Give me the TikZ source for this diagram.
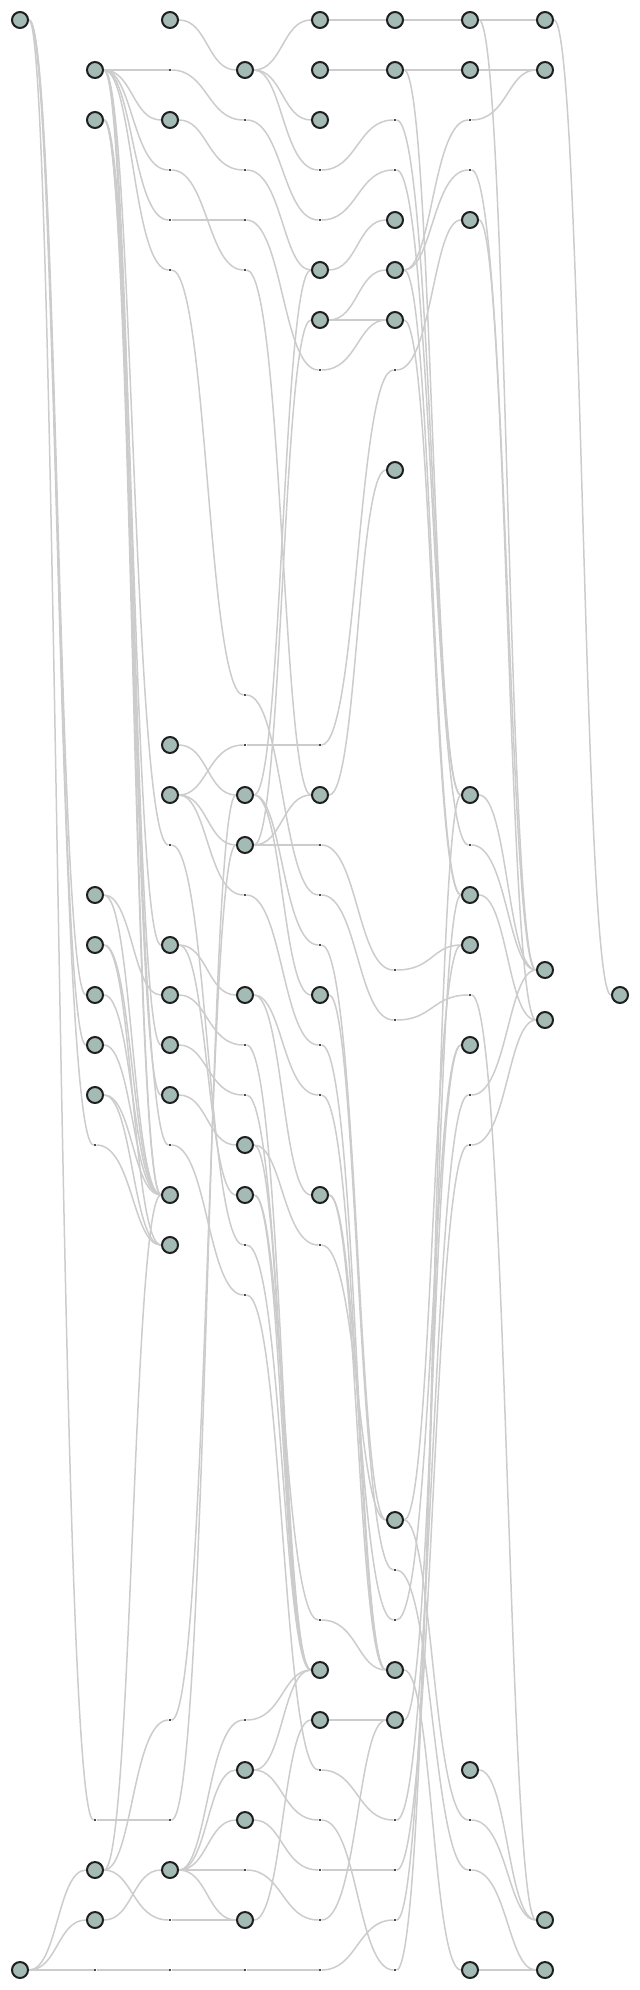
\documentclass[tikz,border=0pt]{standalone}
\usetikzlibrary{backgrounds}
\definecolor{nodefill}{RGB}{163,186,181}
\definecolor{linkgray}{RGB}{204,204,204}
\tikzset{
  vtx/.style={circle,draw=black!88,line width=1pt,fill=nodefill,minimum size=8pt,inner sep=0pt},
  kink/.style={rectangle,fill=black!70,minimum size=1.1pt,inner sep=0pt},
  link/.style={draw=linkgray,line width=0.75pt}
}
\newcommand{\lnk}[2]{\draw[link] (#1) .. controls +(37.5,0) and +(-37.5,0) .. (#2);}
\begin{document}
\begin{tikzpicture}[x=0.5pt,y=-0.5pt]
\useasboundingbox (0,0) rectangle (640,1990);
% Layer 0
\foreach \y in {20,1970} \node[vtx] (c0y\y) at (20,\y) {};
% Layer 1
\foreach \y in {70,120,895,945,995,1045,1095,1870,1920} \node[vtx] (c1y\y) at (95,\y) {};
\foreach \y in {1145,1820,1970} \node[kink] (c1y\y) at (95,\y) {};
% Layer 2
\foreach \y in {20,120,745,795,945,995,1045,1095,1195,1245,1870} \node[vtx] (c2y\y) at (170,\y) {};
\foreach \y in {70,170,220,270,845,1145,1720,1820,1920,1970} \node[kink] (c2y\y) at (170,\y) {};
% Layer 3
\foreach \y in {70,795,845,995,1145,1195,1770,1820,1920} \node[vtx] (c3y\y) at (245,\y) {};
\foreach \y in {120,170,220,270,695,745,895,1045,1095,1245,1295,1720,1870,1970} \node[kink] (c3y\y) at (245,\y) {};
% Layer 4
\foreach \y in {20,70,120,270,320,795,995,1195,1670,1720} \node[vtx] (c4y\y) at (320,\y) {};
\foreach \y in {170,220,370,745,845,895,945,1045,1095,1245,1620,1770,1820,1870,1920,1970} \node[kink] (c4y\y) at (320,\y) {};
% Layer 5
\foreach \y in {20,70,220,270,320,470,1520,1670,1720} \node[vtx] (c5y\y) at (395,\y) {};
\foreach \y in {120,170,370,970,1020,1570,1620,1820,1870,1920,1970} \node[kink] (c5y\y) at (395,\y) {};
% Layer 6
\foreach \y in {20,70,220,795,895,945,1045,1770,1970} \node[vtx] (c6y\y) at (470,\y) {};
\foreach \y in {120,170,845,995,1095,1145,1820,1870} \node[kink] (c6y\y) at (470,\y) {};
% Layer 7 and 8
\foreach \y in {20,70,970,1020,1920,1970} \node[vtx] (c7y\y) at (545,\y) {};
\node[vtx] (c8y995) at (620,995) {};

\begin{scope}[on background layer]
% links 0 -> 1
\foreach \a/\b in {c0y20/c1y995,c0y20/c1y1045,c0y20/c1y1145,c0y20/c1y1820,
  c0y1970/c1y1870,c0y1970/c1y1920,c0y1970/c1y1970}
  {\lnk{\a}{\b}}
% links 1 -> 2
\foreach \a/\b in {c1y70/c2y70,c1y70/c2y120,c1y70/c2y170,c1y70/c2y220,c1y70/c2y270,
  c1y70/c2y845,c1y70/c2y1045,c1y70/c2y1195,
  c1y120/c2y945,c1y120/c2y1095,c1y120/c2y1145,c1y120/c2y1195,
  c1y895/c2y995,c1y895/c2y1195,c1y945/c2y1195,c1y945/c2y1245,
  c1y995/c2y1195,c1y1045/c2y1195,c1y1095/c2y1195,c1y1095/c2y1245,c1y1145/c2y1245,
  c1y1820/c2y1820,c1y1870/c2y1195,c1y1870/c2y1720,c1y1870/c2y1920,
  c1y1920/c2y1870,c1y1970/c2y1970}
  {\lnk{\a}{\b}}
% links 2 -> 3
\foreach \a/\b in {c2y20/c3y70,c2y70/c3y120,c2y120/c3y170,c2y170/c3y270,c2y220/c3y220,
  c2y270/c3y695,c2y745/c3y795,c2y795/c3y745,c2y795/c3y845,c2y795/c3y895,
  c2y845/c3y1245,c2y945/c3y995,c2y945/c3y1195,c2y995/c3y1045,c2y1045/c3y1095,
  c2y1095/c3y1145,c2y1145/c3y1295,c2y1720/c3y845,c2y1820/c3y795,
  c2y1870/c3y1720,c2y1870/c3y1770,c2y1870/c3y1820,c2y1870/c3y1870,c2y1870/c3y1920,
  c2y1920/c3y1920,c2y1970/c3y1970}
  {\lnk{\a}{\b}}
% links 3 -> 4
\foreach \a/\b in {c3y70/c4y20,c3y70/c4y120,c3y70/c4y170,c3y120/c4y220,c3y170/c4y270,
  c3y220/c4y370,c3y270/c4y795,c3y695/c4y895,c3y745/c4y745,
  c3y795/c4y270,c3y795/c4y945,c3y795/c4y995,c3y845/c4y320,c3y845/c4y795,c3y845/c4y845,
  c3y895/c4y1045,c3y995/c4y1195,c3y995/c4y1095,c3y1045/c4y1670,c3y1095/c4y1670,
  c3y1145/c4y1670,c3y1145/c4y1245,c3y1195/c4y1670,c3y1195/c4y1620,c3y1245/c4y1670,
  c3y1295/c4y1770,c3y1720/c4y1670,c3y1770/c4y1670,c3y1770/c4y1820,
  c3y1820/c4y1870,c3y1870/c4y1920,c3y1920/c4y1720,c3y1970/c4y1970}
  {\lnk{\a}{\b}}
% links 4 -> 5
\foreach \a/\b in {c4y20/c5y20,c4y70/c5y70,c4y170/c5y120,c4y220/c5y170,c4y270/c5y220,
  c4y320/c5y270,c4y320/c5y320,c4y370/c5y320,c4y745/c5y370,c4y795/c5y470,
  c4y845/c5y970,c4y895/c5y1020,c4y945/c5y1520,c4y995/c5y1570,c4y1045/c5y1670,
  c4y1095/c5y1670,c4y1195/c5y1620,c4y1195/c5y1670,c4y1245/c5y1520,c4y1620/c5y1670,
  c4y1720/c5y1720,c4y1770/c5y1820,c4y1820/c5y1970,c4y1870/c5y1870,
  c4y1920/c5y1720,c4y1970/c5y1920}
  {\lnk{\a}{\b}}
% links 5 -> 6
\foreach \a/\b in {c5y20/c6y20,c5y70/c6y70,c5y70/c6y795,c5y120/c6y795,c5y170/c6y845,
  c5y270/c6y120,c5y270/c6y170,c5y270/c6y895,c5y320/c6y895,c5y370/c6y220,
  c5y970/c6y945,c5y1020/c6y995,c5y1520/c6y945,c5y1520/c6y1820,c5y1570/c6y1870,
  c5y1620/c6y1045,c5y1670/c6y1970,c5y1720/c6y1045,
  c5y1820/c6y1095,c5y1870/c6y1145,c5y1920/c6y895,c5y1970/c6y795}
  {\lnk{\a}{\b}}
% links 6 -> 7 -> 8
\foreach \a/\b in {c6y20/c7y20,c6y20/c7y970,c6y70/c7y70,c6y120/c7y70,c6y170/c7y970,
  c6y220/c7y1020,c6y795/c7y970,c6y845/c7y970,c6y895/c7y1020,c6y995/c7y1920,
  c6y1095/c7y970,c6y1145/c7y1020,c6y1770/c7y1920,
  c6y1820/c7y1920,c6y1870/c7y1970,c6y1970/c7y1970,c7y20/c8y995}
  {\lnk{\a}{\b}}
\end{scope}
\end{tikzpicture}
\end{document}
